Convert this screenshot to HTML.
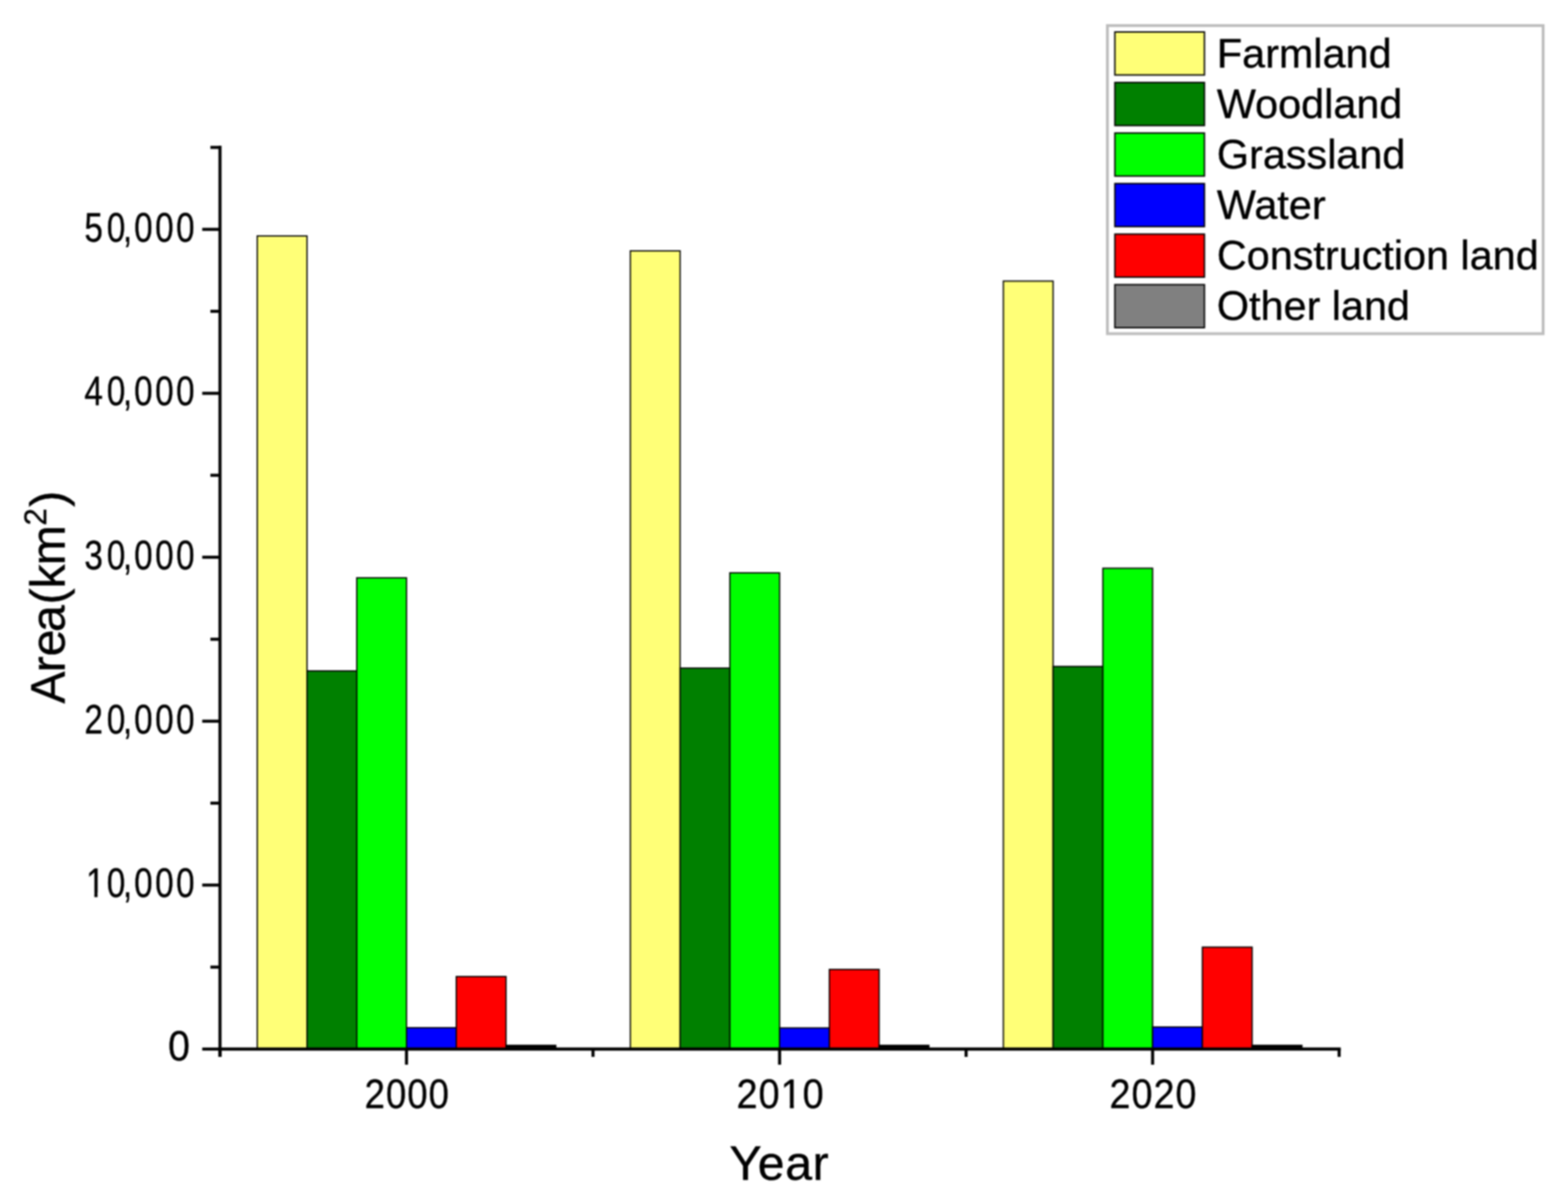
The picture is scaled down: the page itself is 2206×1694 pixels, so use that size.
<!DOCTYPE html><html><head><meta charset="utf-8"><title>Land use area chart</title><style>html,body{margin:0;padding:0;background:#fff;width:2206px;height:1694px;overflow:hidden}#w{filter:blur(1.0px)}svg{display:block}text{font-family:"Liberation Sans",Arial,sans-serif;fill:#000;stroke:#000;stroke-width:0.5px}</style></head><body><div id="w">
<svg width="2206" height="1694" viewBox="0 0 2206 1694">
<rect width="2206" height="1694" fill="#fff"/>
<rect x="361.9" y="332.0" width="70.0" height="1144.0" fill="#FFFF77" stroke="#000" stroke-width="1.8"/>
<rect x="431.9" y="944.0" width="70.0" height="532.0" fill="#008000" stroke="#000" stroke-width="1.8"/>
<rect x="501.9" y="813.0" width="70.0" height="663.0" fill="#00FF00" stroke="#000" stroke-width="1.8"/>
<rect x="571.9" y="1446.0" width="70.0" height="30.0" fill="#0000FF" stroke="#000" stroke-width="1.8"/>
<rect x="641.9" y="1374.0" width="70.0" height="102.0" fill="#FF0000" stroke="#000" stroke-width="1.8"/>
<rect x="711.9" y="1470.8" width="70.0" height="5.2" fill="#000" stroke="#000" stroke-width="1.8"/>
<rect x="886.8" y="353.0" width="70.0" height="1123.0" fill="#FFFF77" stroke="#000" stroke-width="1.8"/>
<rect x="956.8" y="940.0" width="70.0" height="536.0" fill="#008000" stroke="#000" stroke-width="1.8"/>
<rect x="1026.8" y="806.0" width="70.0" height="670.0" fill="#00FF00" stroke="#000" stroke-width="1.8"/>
<rect x="1096.8" y="1446.3" width="70.0" height="29.7" fill="#0000FF" stroke="#000" stroke-width="1.8"/>
<rect x="1166.8" y="1364.0" width="70.0" height="112.0" fill="#FF0000" stroke="#000" stroke-width="1.8"/>
<rect x="1236.8" y="1470.8" width="70.0" height="5.2" fill="#000" stroke="#000" stroke-width="1.8"/>
<rect x="1411.6" y="395.5" width="70.0" height="1080.5" fill="#FFFF77" stroke="#000" stroke-width="1.8"/>
<rect x="1481.6" y="937.7" width="70.0" height="538.3" fill="#008000" stroke="#000" stroke-width="1.8"/>
<rect x="1551.6" y="799.5" width="70.0" height="676.5" fill="#00FF00" stroke="#000" stroke-width="1.8"/>
<rect x="1621.6" y="1445.0" width="70.0" height="31.0" fill="#0000FF" stroke="#000" stroke-width="1.8"/>
<rect x="1691.6" y="1332.6" width="70.0" height="143.4" fill="#FF0000" stroke="#000" stroke-width="1.8"/>
<rect x="1761.6" y="1470.8" width="70.0" height="5.2" fill="#000" stroke="#000" stroke-width="1.8"/>
<g stroke="#000" stroke-width="4.3" stroke-linecap="butt" fill="none">
<line x1="309.5" y1="205.1" x2="309.5" y2="1487"/>
<line x1="307.2" y1="1476.0" x2="1886.3" y2="1476.0"/>
<line x1="284.5" y1="1476.0" x2="309.5" y2="1476.0"/>
<line x1="296" y1="1360.7" x2="309.5" y2="1360.7"/>
<line x1="284.5" y1="1245.3" x2="309.5" y2="1245.3"/>
<line x1="296" y1="1130.0" x2="309.5" y2="1130.0"/>
<line x1="284.5" y1="1014.7" x2="309.5" y2="1014.7"/>
<line x1="296" y1="899.4" x2="309.5" y2="899.4"/>
<line x1="284.5" y1="784.0" x2="309.5" y2="784.0"/>
<line x1="296" y1="668.7" x2="309.5" y2="668.7"/>
<line x1="284.5" y1="553.4" x2="309.5" y2="553.4"/>
<line x1="296" y1="438.0" x2="309.5" y2="438.0"/>
<line x1="284.5" y1="322.7" x2="309.5" y2="322.7"/>
<line x1="296" y1="207.4" x2="309.5" y2="207.4"/>
<line x1="309.5" y1="1476.0" x2="309.5" y2="1487"/>
<line x1="834.3" y1="1476.0" x2="834.3" y2="1487"/>
<line x1="1359.2" y1="1476.0" x2="1359.2" y2="1487"/>
<line x1="1884.0" y1="1476.0" x2="1884.0" y2="1487"/>
<line x1="571.9" y1="1476.0" x2="571.9" y2="1498"/>
<line x1="1096.8" y1="1476.0" x2="1096.8" y2="1498"/>
<line x1="1621.6" y1="1476.0" x2="1621.6" y2="1498"/>
</g>
<text transform="translate(0,1262.1) scale(0.82,1)" font-size="57" x="147.8 183.2 211.0 230.1 266.3 302.1">10,000</text>
<text transform="translate(0,1031.5) scale(0.82,1)" font-size="57" x="144.8 183.2 211.0 230.1 266.3 302.1">20,000</text>
<text transform="translate(0,800.8) scale(0.82,1)" font-size="57" x="144.8 183.2 211.0 230.1 266.3 302.1">30,000</text>
<text transform="translate(0,570.2) scale(0.82,1)" font-size="57" x="144.8 183.2 211.0 230.1 266.3 302.1">40,000</text>
<text transform="translate(0,339.5) scale(0.82,1)" font-size="57" x="144.8 183.2 211.0 230.1 266.3 302.1">50,000</text>
<text transform="translate(236.6,1492.3) scale(0.936,1)" font-size="59">0</text>
<text transform="translate(512.9,1559) scale(0.885,1)" font-size="58" letter-spacing="1.65">2000</text>
<text transform="translate(1036.2,1559) scale(0.915,1)" font-size="58" letter-spacing="1.65">2010</text>
<text transform="translate(1561.1,1559) scale(0.912,1)" font-size="58" letter-spacing="1.65">2020</text>
<text x="1096.5" y="1660.1" font-size="68" text-anchor="middle" letter-spacing="0.8">Year</text>
<text transform="translate(91,990) rotate(-90)" font-size="68"><tspan dx="0">A</tspan><tspan dx="-1.4">r</tspan><tspan dx="0">e</tspan><tspan dx="-3.7">a</tspan><tspan dx="1">(</tspan><tspan dx="-0.2">k</tspan><tspan dx="-1.6">m</tspan><tspan font-size="44" dy="-26" dx="-0.5">2</tspan><tspan dy="26" dx="1.6">)</tspan></text>
<rect x="1558" y="36" width="613" height="433.5" fill="#fff" stroke="#bdbdbd" stroke-width="4"/>
<rect x="1568.5" y="45.0" width="126" height="60.5" fill="#FFFF77" stroke="#000" stroke-width="2.0"/>
<text x="1712" y="94.5" font-size="58.2">Farmland</text>
<rect x="1568.5" y="116.1" width="126" height="60.5" fill="#008000" stroke="#000" stroke-width="2.0"/>
<text x="1712" y="165.5" font-size="58.2">Woodland</text>
<rect x="1568.5" y="187.2" width="126" height="60.5" fill="#00FF00" stroke="#000" stroke-width="2.0"/>
<text x="1712" y="236.5" font-size="58.2">Grassland</text>
<rect x="1568.5" y="258.3" width="126" height="60.5" fill="#0000FF" stroke="#000" stroke-width="2.0"/>
<text x="1712" y="307.5" font-size="58.2">Water</text>
<rect x="1568.5" y="329.4" width="126" height="60.5" fill="#FF0000" stroke="#000" stroke-width="2.0"/>
<text x="1712" y="378.5" font-size="58.2">Construction land</text>
<rect x="1568.5" y="400.5" width="126" height="60.5" fill="#808080" stroke="#000" stroke-width="2.0"/>
<text x="1712" y="449.5" font-size="58.2">Other land</text>
<rect x="122.5" y="1256" width="10.25" height="7.5" fill="#fff"/>
<rect x="137.25" y="1256" width="9.5" height="7.5" fill="#fff"/>
<rect x="1099" y="1553" width="12.25" height="7.5" fill="#fff"/>
<rect x="1116.75" y="1553" width="10.5" height="7.5" fill="#fff"/>
</svg></div></body></html>
